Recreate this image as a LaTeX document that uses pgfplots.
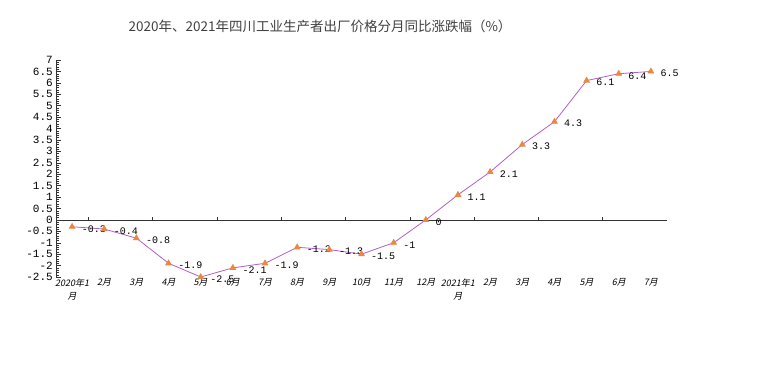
\documentclass[border=0pt]{standalone}
\usepackage{pgfplots}
\pgfplotsset{compat=1.18}
\usepackage{fontspec}
\setmainfont{Liberation Serif}
\setmonofont{Liberation Mono}
\newfontfamily\cjk{Noto Sans CJK SC}
\newfontfamily\cjkit{Noto Sans CJK SC}[FakeSlant=0.2]
\definecolor{linec}{RGB}{175,95,200}
\definecolor{markc}{RGB}{235,135,65}
\begin{document}
\begin{tikzpicture}
\useasboundingbox (0,0) rectangle (759bp,381bp);
\node[font=\cjk\fontsize{13.5bp}{15bp}\selectfont, text=black!75] at (320bp,355bp) {2020年、2021年四川工业生产者出厂价格分月同比涨跌幅（\%）};
\begin{axis}[
  at={(56bp,104bp)}, anchor=south west,
  scale only axis, width=611bp, height=217bp,
  xmin=-0.5, xmax=18.5, ymin=-2.5, ymax=7,
  axis y line=left, axis x line=bottom,
  axis line style={-, black!80},
  x axis line style={draw=none},
  xtick={0,...,18},
  xticklabels={{2020年1\\月},2月,3月,4月,5月,6月,7月,8月,9月,10月,11月,12月,{2021年1\\月},2月,3月,4月,5月,6月,7月},
  xticklabel style={font=\cjkit\fontsize{9bp}{13bp}\selectfont, align=center, yshift=2bp},
  x tick style={draw=none},
  ytick={-2.5,-2,...,7},
  minor y tick num=4,
  tick align=inside,
  major tick length=5bp, minor tick length=3bp,
  y tick style={black!80, line width=0.4pt},
  minor y tick style={black!80, line width=0.4pt},
  yticklabel style={font=\ttfamily\fontsize{11bp}{12bp}\selectfont, inner sep=1bp, xshift=-2bp},
  /pgf/number format/assume math mode=true,
  /pgf/number format/.cd, fixed, precision=1, /pgfplots/.cd,
  extra y ticks={0}, extra y tick labels={},
  extra y tick style={grid=major, major grid style={black!80, line width=0.5pt}, major tick length=0pt},
  clip=false,
  nodes near coords,
  nodes near coords style={font=\ttfamily\fontsize{10bp}{11bp}\selectfont, anchor=west, xshift=6bp, yshift=-2bp, text=black},
]
\addplot[color=linec, line width=0.8pt, mark=triangle*, mark size=3.2bp, mark options={fill=markc, draw=markc}] coordinates {
(0,-0.3) (1,-0.4) (2,-0.8) (3,-1.9) (4,-2.5) (5,-2.1) (6,-1.9) (7,-1.2) (8,-1.3) (9,-1.5) (10,-1) (11,0) (12,1.1) (13,2.1) (14,3.3) (15,4.3) (16,6.1) (17,6.4) (18,6.5)
};
\pgfplotsinvokeforeach{0.5,2.5,4.5,6.5,8.5,10.5,12.5,14.5,16.5}{
  \draw[black!80, line width=0.4pt] (axis cs:#1,0) -- (axis cs:#1,0.13);
}
\end{axis}
\end{tikzpicture}
\end{document}
